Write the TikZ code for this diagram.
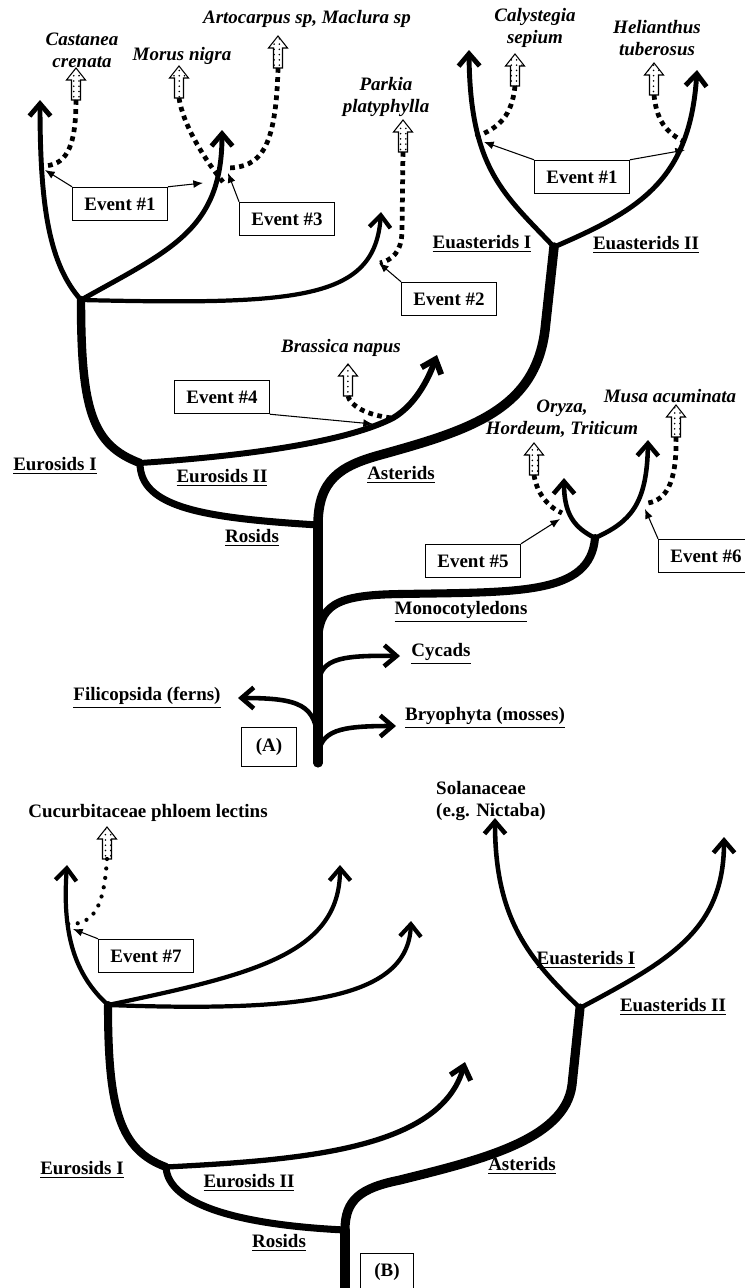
\documentclass[tikz,border=0pt]{standalone}
\usepackage{fontspec}
\setmainfont{Liberation Serif}
\usetikzlibrary{arrows.meta,patterns}
\newcommand{\figfont}{\fontsize{10.8}{12.6}\selectfont\bfseries}
\tikzset{
  branch/.style={line width=#1, line cap=round, line join=round},
  tipped/.style={-{Straight Barb[length=7pt,width=12pt]}},
  evbox/.style={draw, fill=white, line width=0.6pt, minimum width=54pt, minimum height=19pt, font=\figfont},
  evarrow/.style={line width=0.6pt, -{Latex[length=5.5pt,width=4.5pt]}},
  clade/.style={font=\figfont},
  species/.style={font=\figfont\itshape, align=center},
  squaredots/.style={line width=2.7pt, dash pattern=on 2.7pt off 2.5pt},
  rounddots/.style={line width=2.4pt, line cap=round, dash pattern=on 0pt off 5.4pt},
  hollow/.pic={
    \draw[line width=0.6pt, pattern=dots] (-4.5,16) -- (-4.5,-4) -- (-9.5,-4) -- (0,-16) -- (9.5,-4) -- (4.5,-4) -- (4.5,16) -- cycle;
    \coordinate (-tail) at (0,16);
  }
}
\begin{document}
\begin{tikzpicture}[x=0.02cm, y=-0.02cm]
  \useasboundingbox (0,0) rectangle (744,1288);

  \coordinate (A0) at (318,763);
  \coordinate (AR) at (318,525);
  \coordinate (ER) at (140,463);
  \coordinate (EU) at (81,300);
  \coordinate (EA) at (554,247);
  \coordinate (MB) at (318,645);
  \coordinate (MJ) at (595,538);
  \coordinate (CB) at (318,688);
  \coordinate (FB) at (318,742);
  \coordinate (BB) at (318,757);
  \coordinate (tCas) at (40,100);
  \coordinate (tMor) at (222,130);
  \coordinate (tPar) at (381,212);
  \coordinate (tBra) at (437,355);
  \coordinate (tCal) at (469,50);
  \coordinate (tHel) at (697,70);
  \coordinate (tOry) at (564,478);
  \coordinate (tMus) at (648,440);
  \coordinate (tCyc) at (400,656);
  \coordinate (tMos) at (396,726);
  \coordinate (tFer) at (238,698);

  \draw[branch=5.2pt] (A0) -- (AR);
  \draw[branch=4pt] (AR) .. controls (205,518) and (140,508) .. (ER);
  \draw[branch=4.8pt] (ER) .. controls (92,445) and (81,410) .. (EU);
  \draw[branch=3.4pt,tipped] (ER) .. controls (260,455) and (350,440) .. (393,418) .. controls (415,405) and (428,380) .. (tBra);
  \draw[branch=2.8pt,tipped] (EU) .. controls (50,265) and (40,210) .. (tCas);
  \draw[branch=2.8pt,tipped] (EU) .. controls (170,250) and (222,230) .. (tMor);
  \draw[branch=2.4pt,tipped] (EU) .. controls (300,305) and (375,300) .. (tPar);
  \draw[branch=5.4pt] (AR) .. controls (318,480) and (340,466) .. (380,455) .. controls (470,430) and (535,410) .. (545,330) -- (EA);
  \draw[branch=2.8pt,tipped] (EA) .. controls (505,195) and (470,170) .. (tCal);
  \draw[branch=2.8pt,tipped] (EA) .. controls (640,210) and (690,180) .. (tHel);
  \draw[branch=4.6pt] (MB) .. controls (318,605) and (335,595) .. (400,594) .. controls (520,592) and (590,595) .. (MJ);
  \draw[branch=2.6pt,tipped] (MJ) .. controls (575,528) and (564,515) .. (tOry);
  \draw[branch=2.6pt,tipped] (MJ) .. controls (630,522) and (647,505) .. (tMus);
  \draw[branch=2.6pt,tipped] (CB) .. controls (319,660) and (335,655) .. (tCyc);
  \draw[branch=2.6pt,tipped] (BB) .. controls (320,730) and (340,726) .. (tMos);
  \draw[branch=2.6pt,tipped] (FB) .. controls (316,705) and (300,698) .. (tFer);

  \pic (hCas) at (76,84) {hollow};
  \pic (hMor) at (179,82) {hollow};
  \pic (hArt) at (278,52) {hollow};
  \pic (hPar) at (403,136) {hollow};
  \pic (hBra) at (348,380) {hollow};
  \pic (hCal) at (515,70) {hollow};
  \pic (hHel) at (654,79) {hollow};
  \pic (hOry) at (534,459) {hollow};
  \pic (hMus) at (676,421) {hollow};

  \coordinate (dCas) at (42,166);
  \coordinate (dMor) at (223,182);
  \coordinate (dArt) at (228,168);
  \coordinate (dPar) at (380,263);
  \coordinate (dBra) at (392,418);
  \coordinate (dCal) at (475,137);
  \coordinate (dHel) at (687,143);
  \coordinate (dOry) at (562,513);
  \coordinate (dMus) at (648,503);
  \draw[squaredots] (hCas-tail) .. controls (76,150) and (65,166) .. (dCas);
  \draw[squaredots] (hMor-tail) .. controls (183,125) and (205,160) .. (dMor);
  \draw[squaredots] (hArt-tail) .. controls (276,150) and (260,167) .. (dArt);
  \draw[squaredots] (hPar-tail) -- (402,230) .. controls (402,252) and (392,260) .. (dPar);
  \draw[squaredots] (hBra-tail) .. controls (350,405) and (365,415) .. (dBra);
  \draw[squaredots] (hCal-tail) .. controls (512,115) and (500,128) .. (dCal);
  \draw[squaredots] (hHel-tail) .. controls (657,125) and (670,135) .. (dHel);
  \draw[squaredots] (hOry-tail) .. controls (537,495) and (550,508) .. (dOry);
  \draw[squaredots] (hMus-tail) .. controls (677,485) and (665,500) .. (dMus);

  \node[species] (lCas) at (82,50) {Castanea\\crenata};
  \node[species] (lMor) at (182,56) {Morus nigra};
  \node[species] (lArt) at (307,19) {Artocarpus sp, Maclura sp};
  \node[species] (lPar) at (386,97) {Parkia\\platyphylla};
  \node[species] (lBra) at (341,348) {Brassica napus};
  \node[species] (lCal) at (535,28) {Calystegia\\sepium};
  \node[species] (lHel) at (657,38) {Helianthus\\tuberosus};
  \node[species] (lOry) at (562,419) {Oryza,\\Hordeum, Triticum};
  \node[species] (lMus) at (670,396) {Musa acuminata};

  \node[clade] (cEI) at (55,466) {\underline{Eurosids I}};
  \node[clade] (cEII) at (222,478) {\underline{Eurosids II}};
  \node[clade] (cRos) at (252,538) {\underline{Rosids}};
  \node[clade] (cAst) at (401,475) {\underline{Asterids}};
  \node[clade] (cEaI) at (482,244) {\underline{Euasterids I}};
  \node[clade] (cEaII) at (646,245) {\underline{Euasterids II}};
  \node[clade] (cMon) at (461,612) {\underline{Monocotyledons}};
  \node[clade] (cCyc) at (441,654) {\underline{Cycads}};
  \node[clade] (cMos) at (485,718) {\underline{Bryophyta (mosses)}};
  \node[clade] (cFer) at (147,698) {\underline{Filicopsida (ferns)}};
  \node[draw, line width=0.6pt, minimum width=31pt, minimum height=22.5pt, font=\figfont] (pA) at (269,747) {(A)};

  \node[evbox] (ev1) at (120,204) {Event \#1};
  \node[evbox] (ev3) at (287,219) {Event \#3};
  \node[evbox] (ev2) at (449,299) {Event \#2};
  \node[evbox] (ev1b) at (582,177) {Event \#1};
  \node[evbox] (ev4) at (222,397) {Event \#4};
  \node[evbox] (ev5) at (473,561) {Event \#5};
  \node[evbox] (ev6) at (706,556) {Event \#6};
  \coordinate (e1a) at (45,170);
  \coordinate (e1b) at (203,183);
  \coordinate (e3) at (228,173);
  \coordinate (e2) at (379,263);
  \coordinate (e1c) at (484,142);
  \coordinate (e1d) at (685,150);
  \coordinate (e4) at (373,424);
  \coordinate (e5) at (560,519);
  \coordinate (e6) at (645,509);
  \draw[evarrow] (ev1.north west) -- (e1a);
  \draw[evarrow] (ev1.north east) -- (e1b);
  \draw[evarrow] (ev3.north west) -- (e3);
  \draw[evarrow] (ev2.north west) -- (e2);
  \draw[evarrow] (ev1b.north west) -- (e1c);
  \draw[evarrow] (ev1b.north east) -- (e1d);
  \draw[evarrow] (ev4.south east) -- (e4);
  \draw[evarrow] (ev5.north east) -- (e5);
  \draw[evarrow] (ev6.north west) -- (e6);

  \coordinate (B0) at (345,1292);
  \coordinate (BR) at (345,1230);
  \coordinate (BER) at (166,1167);
  \coordinate (BEU) at (108,1005);
  \coordinate (BEA) at (580,1008);
  \coordinate (uCuc) at (67,865);
  \coordinate (uMid) at (340,865);
  \coordinate (uRgt) at (411,921);
  \coordinate (uBra) at (465,1062);
  \coordinate (uSol) at (495,818);
  \coordinate (uEII) at (724,837);

  \draw[branch=5.2pt] (B0) -- (BR);
  \draw[branch=4pt] (BR) .. controls (240,1225) and (168,1205) .. (BER);
  \draw[branch=4.6pt] (BER) .. controls (120,1150) and (108,1110) .. (BEU);
  \draw[branch=3pt,tipped] (BER) .. controls (300,1160) and (440,1150) .. (uBra);
  \draw[branch=2.4pt,tipped] (BEU) .. controls (75,975) and (62,935) .. (uCuc);
  \draw[branch=2.4pt,tipped] (BEU) .. controls (250,975) and (340,955) .. (uMid);
  \draw[branch=2.4pt,tipped] (BEU) .. controls (300,1012) and (408,1000) .. (uRgt);
  \draw[branch=5.2pt] (BR) .. controls (345,1200) and (360,1188) .. (400,1180) .. controls (480,1160) and (565,1140) .. (572,1085) -- (BEA);
  \draw[branch=2.6pt,tipped] (BEA) .. controls (530,960) and (495,920) .. (uSol);
  \draw[branch=2.6pt,tipped] (BEA) .. controls (670,960) and (724,930) .. (uEII);

  \pic (hCuc) at (107,843) {hollow};
  \coordinate (dCuc) at (68,924);
  \draw[rounddots] (hCuc-tail) .. controls (104,905) and (95,925) .. (dCuc);

  \node[font=\figfont] (lCuc) at (148,813) {Cucurbitaceae phloem lectins};
  \node[font=\figfont, align=left, anchor=west] (lSol) at (430,801) {Solanaceae\\(e.g. Nictaba)};
  \node[clade] (dEI) at (82,1170) {\underline{Eurosids I}};
  \node[clade] (dEII) at (249,1183) {\underline{Eurosids II}};
  \node[clade] (dRos) at (279,1243) {\underline{Rosids}};
  \node[clade] (dAst) at (522,1166) {\underline{Asterids}};
  \node[clade] (dEaI) at (586,960) {\underline{Euasterids I}};
  \node[clade] (dEaII) at (673,1007) {\underline{Euasterids II}};
  \node[draw, line width=0.6pt, minimum width=30.6pt, minimum height=21pt, font=\figfont] (pB) at (387,1272) {(B)};

  \node[evbox] (ev7) at (146,956) {Event \#7};
  \coordinate (e7) at (73,929);
  \draw[evarrow] (ev7.north west) -- (e7);
\end{tikzpicture}
\end{document}
